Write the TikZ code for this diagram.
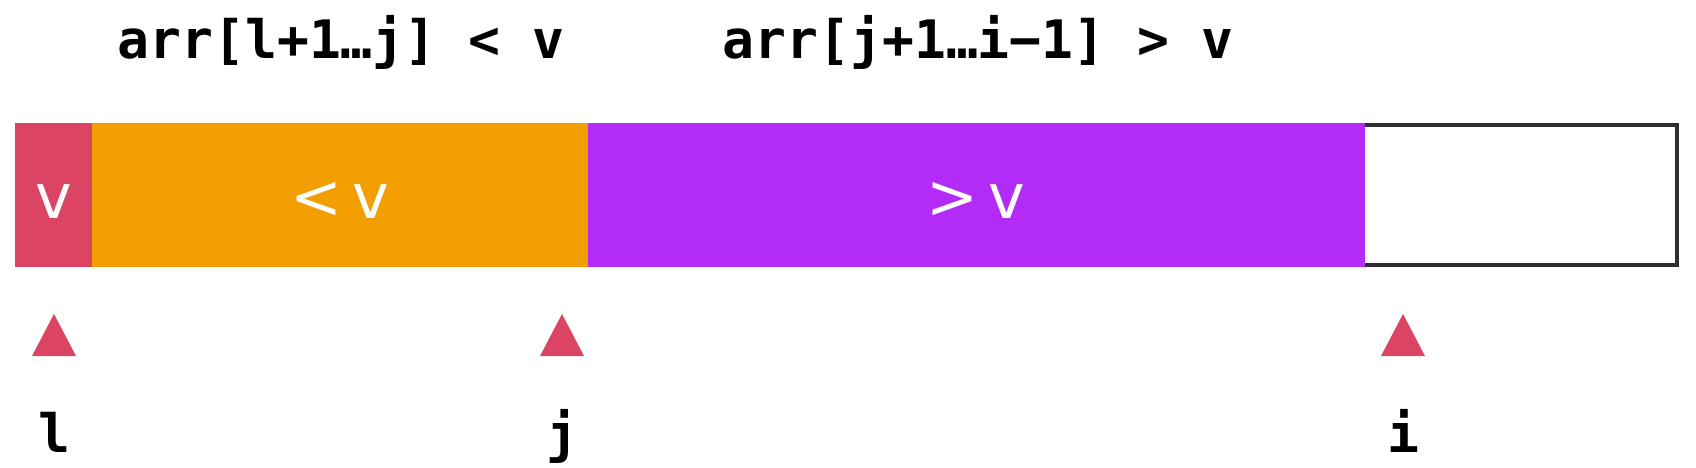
\documentclass[tikz,border=0pt]{standalone}
\usepackage{fontspec}
\newfontfamily\codefont{DejaVu Sans Mono}
\newfontfamily\cellfont{DejaVu Sans}
\definecolor{pivred}{HTML}{DB4563}
\definecolor{lessor}{HTML}{F29D00}
\definecolor{greatpu}{HTML}{B22BF7}
\definecolor{boxline}{HTML}{2E2E2E}
\tikzset{
  codelabel/.style={font=\codefont\bfseries\fontsize{53}{60}\selectfont, anchor=base, inner sep=0pt, text=black},
  celltext/.style={font=\cellfont\fontsize{62}{70}\selectfont, anchor=base, inner sep=0pt, text=white},
  pointer/.style={fill=pivred, draw=none}
}
\begin{document}
\begin{tikzpicture}[x=1pt,y=-1pt]
\useasboundingbox (0,0) rectangle (1696,468);
\fill[white] (0,0) rectangle (1696,468);
% segments
\fill[pivred] (15,123) rectangle (92,267);
\fill[lessor] (92,123) rectangle (588,267);
\fill[greatpu] (588,123) rectangle (1365,267);
\draw[boxline, line width=4pt] (1365,125) -- (1677,125) -- (1677,265) -- (1365,265);
% cell texts
\node[celltext] (cv) at (54,218) {v};
\node[celltext] (clt) at (340,218) {<\,v};
\node[celltext] (cgt) at (976,218) {>\,v};
% top labels
\node[codelabel] (lab1) at (341,59) {arr[l+1…j] < v};
\node[codelabel] (lab2) at (978,59) {arr[j+1…i−1] > v};
% pointers
\fill[pointer] (54,314) -- (76,356) -- (32,356) -- cycle;
\fill[pointer] (562,314) -- (584,356) -- (540,356) -- cycle;
\fill[pointer] (1403,314) -- (1425,356) -- (1381,356) -- cycle;
% pointer labels
\node[codelabel] (pl) at (54,452) {l};
\node[codelabel] (pj) at (562,452) {j};
\node[codelabel] (pi) at (1403,452) {i};
\end{tikzpicture}
\end{document}
